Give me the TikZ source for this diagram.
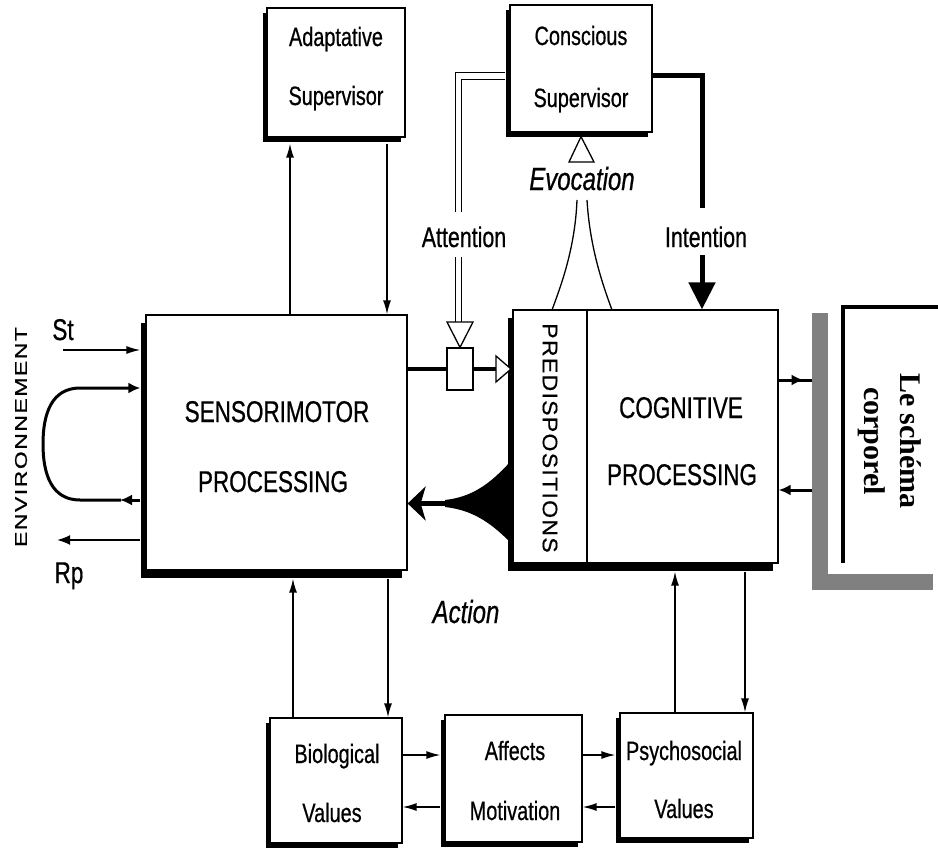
\documentclass[tikz,border=0pt]{standalone}
\usepackage{fontspec}
\setmainfont[FakeStretch=0.75,FakeBold=0.6]{Liberation Sans}
\newfontfamily\predfont[FakeStretch=1.1,LetterSpace=6,FakeBold=0.5]{Liberation Sans}
\newfontfamily\envfont[FakeStretch=1.35,LetterSpace=9,FakeBold=0.8]{Liberation Sans}
\newfontfamily\lsfont{Liberation Serif}
\usetikzlibrary{arrows.meta,shadows,decorations.markings,calc}
\begin{document}
\begin{tikzpicture}[x=1pt,y=-1pt,
  box/.style={draw, line width=1.3pt, fill=white, inner sep=0pt},
  shsmall/.style={general shadow={fill=black, shadow xshift=-4pt, shadow yshift=-5pt}},
  shbig/.style={general shadow={fill=black, shadow xshift=-5pt, shadow yshift=-8pt}},
  lbl/.style={inner sep=0pt, anchor=base, font=\fontsize{26.5}{26.5}\selectfont},
  biglbl/.style={inner sep=0pt, anchor=base, font=\fontsize{30}{30}\selectfont},
  conn/.style={line width=1.4pt, -{Latex[length=14pt,width=8pt]}},
  dbl/.style={double, double distance=5.5pt, line width=1.2pt},
  amid/.style={postaction={decorate},decoration={markings,mark=at position #1 with {\arrow{Latex[length=12pt,width=11pt]}}}}
]
\useasboundingbox (0,0) rectangle (938,852);

% ---- boxes ----
\node[box, shsmall, minimum width=138pt, minimum height=129pt] (adapt) at (336,72.5) {};
\node[box, shsmall, minimum width=142pt, minimum height=127pt] (consc) at (581,68.5) {};
\node[box, shbig, minimum width=261pt, minimum height=255pt] (sens) at (276.5,442.5) {};
\node[box, shbig, minimum width=191pt, minimum height=253pt] (cog) at (682.5,436.5) {};
\node[box, shbig, minimum width=74pt, minimum height=253pt] (pred) at (550,436.5) {};
\node[box, shsmall, minimum width=132pt, minimum height=125pt] (bio) at (336,780.5) {};
\node[box, shsmall, minimum width=137pt, minimum height=127pt] (aff) at (513.5,778.5) {};
\node[box, shsmall, minimum width=133pt, minimum height=125pt] (psy) at (686.5,775.5) {};

% ---- texts ----
\node[lbl] (adapt1) at (336,46) {Adaptative};
\node[lbl] (adapt2) at (336,105) {Supervisor};
\node[lbl] (consc1) at (581,45) {Conscious};
\node[lbl] (consc2) at (581,107) {Supervisor};
\node[biglbl] (sens1) at (277,422) {SENSORIMOTOR};
\node[biglbl] (sens2) at (273,492) {PROCESSING};
\node[biglbl] (cog1) at (681,418) {COGNITIVE};
\node[biglbl] (cog2) at (682,485) {PROCESSING};
\node[lbl] (bio1) at (337,763) {Biological};
\node[lbl] (bio2) at (332,822) {Values};
\node[lbl] (aff1) at (515,760) {Affects};
\node[lbl] (aff2) at (515,820) {Motivation};
\node[lbl] (psy1) at (684,760) {Psychosocial};
\node[lbl] (psy2) at (684,818) {Values};
\node[lbl, font=\itshape\fontsize{32}{32}\selectfont] (evo) at (582,190) {Evocation};
\node[lbl, font=\fontsize{28.5}{28.5}\selectfont] (att) at (464,247) {Attention};
\node[lbl, font=\fontsize{28.5}{28.5}\selectfont] (int) at (706,247) {Intention};
\node[lbl, font=\itshape\fontsize{32}{32}\selectfont] (act) at (466,623) {Action};
\node[lbl, font=\fontsize{30}{30}\selectfont] (st) at (63,340) {St};
\node[lbl, font=\fontsize{30}{30}\selectfont] (rp) at (69,583) {Rp};
\node[rotate=-90, inner sep=0pt, font=\predfont\fontsize{21}{21}\selectfont] (predlbl) at (550,438) {PREDISPOSITIONS};
\node[rotate=90, inner sep=0pt, font=\envfont\fontsize{17}{17}\selectfont] (env) at (21,437) {ENVIRONNEMENT};

% ---- gate box ----
\node[box, line width=1.2pt, minimum width=26pt, minimum height=42pt] (gate) at (460,369) {};

% ---- supervisors links ----
\draw[conn] (sens.north -| 290,0) -- ($(adapt.south -| 290,0)+(0,6)$);
\draw[conn] ($(adapt.south -| 387,0)+(0,6)$) -- (sens.north -| 387,0);

% ---- bottom links ----
\draw[conn] (bio.north -| 293,0) -- ($(sens.south -| 293,0)+(0,8)$);
\draw[conn] ($(sens.south -| 388,0)+(0,8)$) -- (bio.north -| 388,0);
\draw[conn] (psy.north -| 675,0) -- ($(cog.south -| 675,0)+(0,8)$);
\draw[conn] ($(cog.south -| 745,0)+(0,8)$) -- (psy.north -| 745,0);
\draw[conn] (bio.east |- 0,755) -- ($(aff.west |- 0,755)+(-4,0)$);
\draw[conn] ($(aff.west |- 0,807)+(-4,0)$) -- (bio.east |- 0,807);
\draw[conn] (aff.east |- 0,755) -- ($(psy.west |- 0,755)+(-4,0)$);
\draw[conn] ($(psy.west |- 0,807)+(-4,0)$) -- (aff.east |- 0,807);

% ---- environment links ----
\coordinate (stsrc) at (63,350);
\draw[conn] (stsrc) -- ($(sens.west |- 0,350)+(-5,0)$);
\draw[line width=3pt, -{Latex[length=12pt,width=11pt]}] ($(sens.west |- 0,500)+(-5,0)$) -- (120,500);
\draw[line width=3pt, -{Latex[length=12pt,width=11pt]}] (121,500) -- (80,500)
   .. controls (52,500) and (43,475) .. (43,444)
   .. controls (43,413) and (52,388) .. (80,388) -- ($(sens.west |- 0,388)+(-5,0)$);
\coordinate (rpend) at (57,540);
\draw[line width=2pt, -{Latex[length=13pt,width=10pt]}] ($(sens.west |- 0,540)+(-5,0)$) -- (rpend);

% ---- attention ----
\draw[dbl] ($(consc.west |- 0,76)+(-4,0)$) -- (458.5,76) -- (458.5,212);
\draw[dbl] (458.5,257) -- (458.5,323);
\draw[line width=1.3pt, fill=white] (447,322) -- (473,322) -- (gate.north) -- cycle;
\draw[line width=4pt] (sens.east |- gate.west) -- (gate.west);
\draw[line width=4pt] (gate.east) -- (497,369);
\draw[line width=1.3pt, fill=white] (496,356) -- (496,382) -- (511,369) -- cycle;

% ---- evocation ----
\draw[line width=1.3pt, fill=white] (569,162) -- (594,162) -- ($(consc.south)+(0,4)$) -- cycle;
\draw[line width=1.3pt] (577,200) .. controls (575,250) and (560,288) .. (552,310);
\draw[line width=1.3pt] (587,200) .. controls (590,250) and (604,288) .. (612,310);

% ---- intention ----
\draw[line width=5pt] (consc.east |- 0,75) -- (702,75) -- (702,208);
\draw[line width=5pt, -{Triangle[length=27pt,width=26pt]}] (702,255) -- (cog.north -| 702,0);

% ---- action ----
\fill (510,462) .. controls (490,484) and (472,497) .. (445,500) -- (445,507)
   .. controls (472,510) and (490,522) .. (510,542) -- cycle;
\draw[line width=5pt, -{Stealth[length=18pt,width=34pt,inset=5pt]}] (450,503.5) -- (sens.east |- 0,503.5);

% ---- le schema corporel ----
\node[fill=gray, minimum width=16pt, minimum height=277pt, inner sep=0pt] (bar) at (820,451.5) {};
\fill[gray] (bar.south west) rectangle (933,574);
\draw[line width=3.2pt] (938,307) -- (843,307) -- (843,563);
\node[rotate=-90, align=center, inner sep=0pt, font=\lsfont\bfseries\fontsize{30}{36}\selectfont] (ls) at (890,441) {Le schéma\\corporel};
\draw[line width=3pt, amid=0.75] (cog.east |- 0,380) -- (bar.west |- 0,380);
\draw[line width=3pt, -{Latex[length=12pt,width=11pt]}] (bar.west |- 0,490) -- (cog.east |- 0,490);
\end{tikzpicture}
\end{document}
